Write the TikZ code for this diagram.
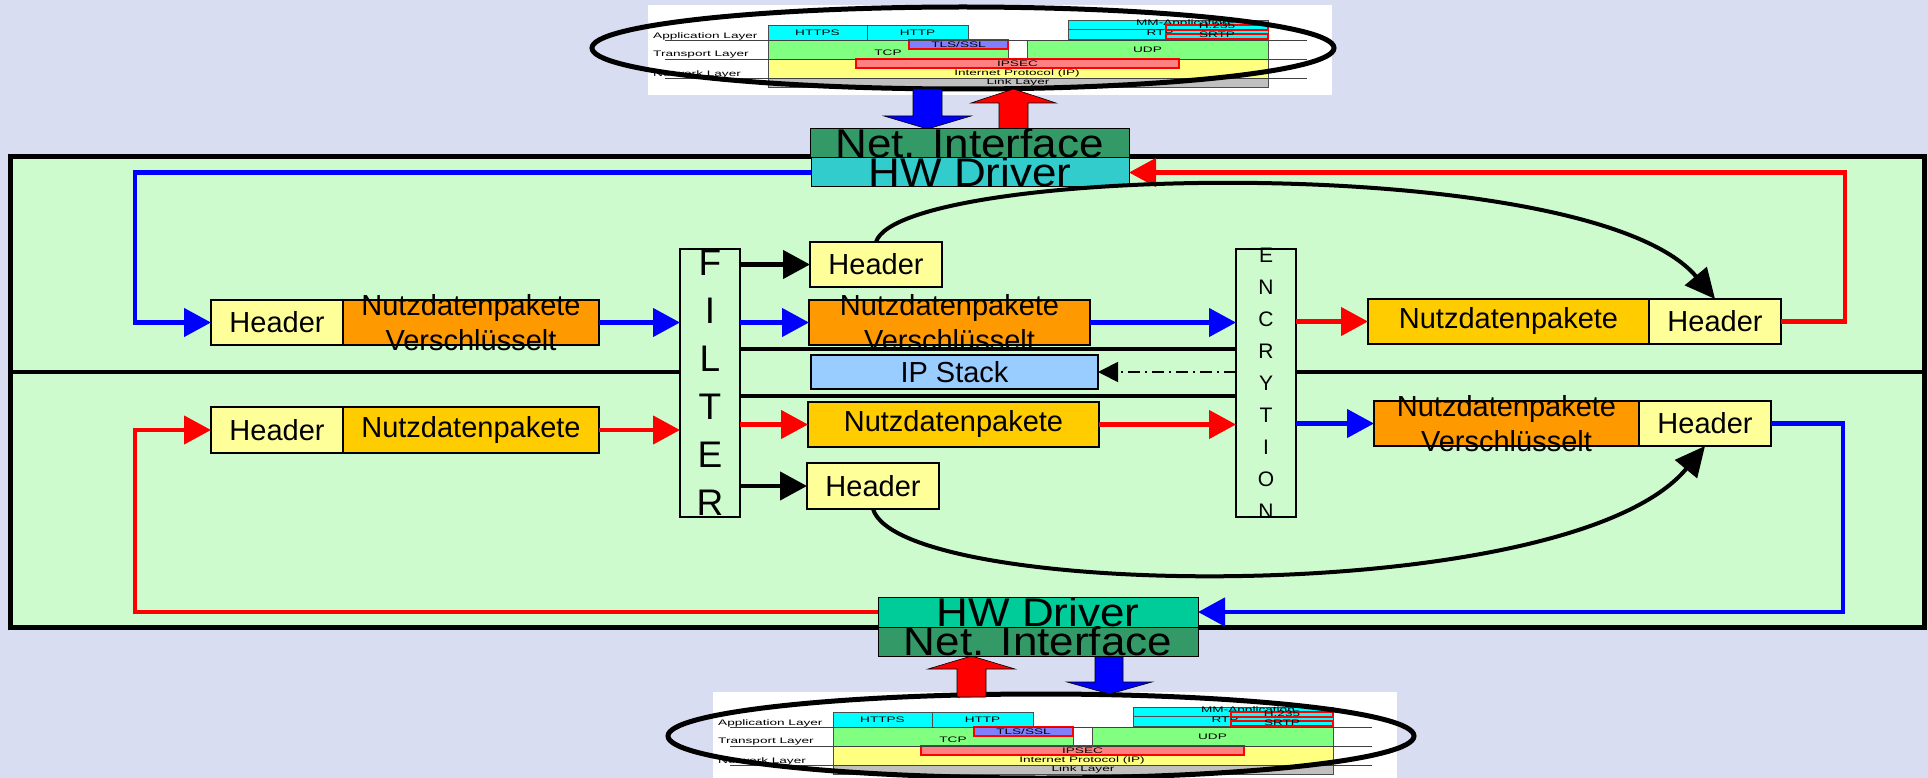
\documentclass[tikz,border=0pt]{standalone}
\usepackage{fontspec}
\setmainfont{Liberation Sans}
\usetikzlibrary{arrows.meta,shapes.geometric}
\definecolor{bgblue}{RGB}{216,221,242}
\definecolor{panel}{RGB}{206,251,206}
\definecolor{hdr}{HTML}{FFFF99}
\definecolor{orng}{HTML}{FF9900}
\definecolor{gold}{HTML}{FFCC00}
\definecolor{ipblue}{HTML}{99CCFF}
\definecolor{netif}{HTML}{339966}
\definecolor{hwtopc}{HTML}{33CCCC}
\definecolor{hwbotc}{HTML}{00CC99}
\definecolor{pcyan}{HTML}{00FFFF}
\definecolor{pgreen}{HTML}{80FF80}
\definecolor{pyellow}{HTML}{FFFF80}
\definecolor{psalmon}{HTML}{FF8080}
\definecolor{pviolet}{HTML}{8080FF}
\definecolor{pgrey}{HTML}{C0C0C0}
\newcommand\myfs[2]{\fontsize{#1}{#2}\selectfont}
\newcommand\ptx[1]{\scalebox{1.7}[1]{#1}}
\newcommand\bigx[1]{\scalebox{1.1}[1]{#1}}
\newcommand\protostack[3]{%
\begin{scope}[shift={(#2,#3)}]
\fill[white] (648,5) rectangle (1332,95);
\node[pcell,fill=pcyan,minimum width=99pt,minimum height=15pt] (#1https) at (768,25) {\ptx{HTTPS}};
\node[pcell,fill=pcyan,minimum width=101pt,minimum height=15pt] (#1http) at (867,25) {\ptx{HTTP}};
\node[pcell,fill=pcyan,minimum width=200pt,minimum height=19pt] (#1mm) at (1068,20) {};
\draw[black!70,line width=0.6pt] (#1mm.west) -- (#1mm.east);
\node[ptxt] (#1mmt) at (1183,23) {\ptx{MM-Application}};
\node[ptxt] (#1rtp) at (1160,33) {\ptx{RTP}};
\node[pcell,fill=pcyan,draw=red,line width=1.2pt,minimum width=102pt,minimum height=5pt,text height=3pt,text depth=0pt] (#1h235) at (1166,25) {\ptx{H.235}};
\node[pcell,fill=pcyan,draw=red,line width=1.2pt,minimum width=102pt,minimum height=5pt,text height=3pt,text depth=0pt] (#1srtp) at (1166,34) {\ptx{SRTP}};
\node[pcell,fill=pgreen,minimum width=240pt,minimum height=19pt] (#1tcp) at (768,40) {};
\node[ptxt] (#1tcpt) at (888,53) {\ptx{TCP}};
\node[pcell,fill=pviolet,draw=red,line width=1.2pt,minimum width=99pt,minimum height=9pt] (#1tls) at (909,40) {\ptx{TLS/SSL}};
\node[pcell,fill=pgreen,minimum width=241pt,minimum height=19pt] (#1udp) at (1027,40) {\ptx{UDP}};
\node[pcell,fill=pyellow,minimum width=500pt,minimum height=19pt] (#1ip) at (768,59) {};
\node[ptxt] (#1ipt) at (1017,73) {\ptx{Internet Protocol (IP)}};
\node[pcell,fill=psalmon,draw=red,line width=1.2pt,minimum width=323pt,minimum height=9pt] (#1ipsec) at (856,59) {\ptx{IPSEC}};
\node[pcell,fill=pgrey,minimum width=500pt,minimum height=9pt] (#1link) at (768,78) {\ptx{Link Layer}};
\foreach \yy in {40,59,78} \draw[black!75,line width=0.7pt] (665,\yy) -- (1307,\yy);
\node[ptxt,anchor=west] (#1app) at (653,36) {\ptx{Application Layer}};
\node[ptxt,anchor=west] (#1trn) at (653,55) {\ptx{Transport Layer}};
\node[ptxt,anchor=west] (#1net) at (653,74) {\ptx{Network Layer}};
\end{scope}}
\begin{document}
\begin{tikzpicture}[x=1pt,y=-1pt,
  pcell/.style={draw=black!70,line width=0.6pt,anchor=north west,inner sep=0pt,outer sep=0pt,font=\myfs{8}{9}},
  ptxt/.style={inner sep=0pt,font=\myfs{8}{9}},
  tbox/.style={draw=black,line width=1.5pt,anchor=north west,inner sep=0pt,outer sep=0pt,font=\myfs{29}{35}},
  lbl/.style={inner sep=0pt,align=center,font=\myfs{29}{35}},
  bigbox/.style={draw=black,line width=1pt,anchor=north west,inner sep=0pt,outer sep=0pt},
  biglbl/.style={inner sep=0pt,font=\myfs{40}{44}},
  ell/.style={draw=black,line width=5pt,ellipse,inner sep=0pt},
  blueline/.style={draw=blue,line width=4.5pt,-{Triangle[length=27pt,width=28pt]}},
  redline/.style={draw=red,line width=4.5pt,-{Triangle[length=27pt,width=28pt]}},
  blkline/.style={draw=black,line width=4.5pt,-{Triangle[length=27pt,width=28pt]}},
  blkplain/.style={draw=black,line width=4.5pt},
  curvearrow/.style={draw=black,line width=4pt,-{Triangle[length=30pt,width=28pt]}},
  dashdotarrow/.style={draw=black,line width=1.8pt,dash pattern=on 12pt off 5pt on 2pt off 5pt,-{Triangle[length=20pt,width=20pt]}},
  blockarrow/.style={draw=black,line width=0.6pt}]
\fill[bgblue] (0,0) rectangle (1928,778);
\useasboundingbox (0,0) rectangle (1928,778);
% main panel
\node[draw=black,line width=5pt,fill=panel,anchor=north west,inner sep=0pt,outer sep=0pt,minimum width=1914pt,minimum height=470pt] (panel) at (10,157) {};
% protocol stacks
\protostack{t}{0}{0}
\protostack{b}{65}{687}
\node[ell,minimum width=742pt,minimum height=82pt] (ellT) at (963,48) {};
\node[ell,minimum width=746pt,minimum height=84pt] (ellB) at (1041,736) {};
% block arrows
\filldraw[blockarrow,fill=blue] (913,89) -- (942,89) -- (942,116) -- (971,116) -- (927.5,129) -- (884,116) -- (913,116) -- cycle;
\filldraw[blockarrow,fill=red] (999,129) -- (999,103) -- (971,103) -- (1013.5,89) -- (1056,103) -- (1028,103) -- (1028,129) -- cycle;
\filldraw[blockarrow,fill=red] (957,697) -- (957,669) -- (928,669) -- (971.5,656) -- (1015,669) -- (986,669) -- (986,697) -- cycle;
\filldraw[blockarrow,fill=blue] (1095,656) -- (1123,656) -- (1123,682) -- (1152,682) -- (1109.5,694) -- (1067,682) -- (1095,682) -- cycle;
% interface boxes
\node[bigbox,fill=netif,minimum width=319pt,minimum height=29pt] (netT) at (810,129) {};
\node[bigbox,fill=hwtopc,minimum width=318pt,minimum height=29pt] (hwT) at (811,158) {};
\node[bigbox,fill=hwbotc,minimum width=320pt,minimum height=30pt] (hwB) at (878,597) {};
\node[bigbox,fill=netif,minimum width=320pt,minimum height=29pt] (netB) at (878,627) {};
\node[biglbl] (netTt) at (netT.center) {\bigx{Net. Interface}};
\node[biglbl] (hwTt) at (hwT.center) {\bigx{HW Driver}};
\node[biglbl] (hwBt) at (hwB.center) {\bigx{HW Driver}};
\node[biglbl] (netBt) at (netB.center) {\bigx{Net. Interface}};
% filter and encryption
\node[draw=black,line width=2pt,fill=panel,anchor=north west,inner sep=0pt,outer sep=0pt,minimum width=60pt,minimum height=268pt] (filter) at (680,249) {};
\node[inner sep=0pt,align=center,font=\myfs{37}{48}] (filtert) at (filter.center) {F\\I\\L\\T\\E\\R};
\node[draw=black,line width=2pt,fill=panel,anchor=north west,inner sep=0pt,outer sep=0pt,minimum width=60pt,minimum height=268pt] (encr) at (1236,249) {};
\node[inner sep=0pt,align=center,font=\myfs{21}{32}] (encrt) at (encr.center) {E\\N\\C\\R\\Y\\T\\I\\O\\N};
% divider
\draw[blkplain] (panel.west |- 0,372) -- (filter.west |- 0,372);
\draw[blkplain] (encr.east |- 0,372) -- (panel.east |- 0,372);
% packet boxes
\node[tbox,fill=hdr,minimum width=132pt,minimum height=45pt] (hUL) at (211,300) {Header};
\node[tbox,fill=orng,minimum width=256pt,minimum height=45pt] (nUL) at (343,300) {};
\node[lbl] (nULt) at (nUL.center) {Nutzdatenpakete\\Verschlüsselt};
\node[tbox,fill=hdr,minimum width=132pt,minimum height=46pt] (hLL) at (211,407) {Header};
\node[tbox,fill=gold,minimum width=256pt,minimum height=46pt] (nLL) at (343,407) {Nutzdatenpakete};
\node[tbox,fill=hdr,minimum width=132pt,minimum height=45pt] (hM1) at (810,242) {Header};
\node[tbox,fill=orng,minimum width=281pt,minimum height=45pt] (nM) at (809,300) {};
\node[lbl] (nMt) at (nM.center) {Nutzdatenpakete\\Verschlüsselt};
\node[tbox,fill=ipblue,minimum width=287pt,minimum height=34pt] (ip) at (811,355) {IP Stack};
\node[tbox,fill=gold,minimum width=291pt,minimum height=45pt] (nML) at (808,402) {Nutzdatenpakete};
\node[tbox,fill=hdr,minimum width=132pt,minimum height=46pt] (hM2) at (807,463) {Header};
\node[tbox,fill=gold,minimum width=281pt,minimum height=45pt] (nUR) at (1368,299) {Nutzdatenpakete};
\node[tbox,fill=hdr,minimum width=132pt,minimum height=45pt] (hUR) at (1649,299) {Header};
\node[tbox,fill=orng,minimum width=265pt,minimum height=45pt] (nLR) at (1374,401) {};
\node[lbl] (nLRt) at (nLR.center) {Nutzdatenpakete\\Verschlüsselt};
\node[tbox,fill=hdr,minimum width=132pt,minimum height=45pt] (hLR) at (1639,401) {Header};
% loop connectors
\draw[blueline] (hwT.west) -| (135,322.5) -- (hUL.west);
\draw[redline] (hUR.east) -- (1845,321.5) |- (hwT.east);
\draw[blueline] (hLR.east) -- (1843,423.5) |- (hwB.east);
\draw[redline] (hwB.west) -| (135,430) -- (hLL.west);
% inner connectors
\draw[blueline] (nUL.east) -- (filter.west |- nUL.east);
\draw[redline] (nLL.east) -- (filter.west |- nLL.east);
\draw[blkline] (filter.east |- hM1.west) -- (hM1.west);
\draw[blueline] (filter.east |- nM.west) -- (nM.west);
\draw[blueline] (nM.east) -- (encr.west |- nM.east);
\draw[blkplain] (filter.east |- 0,349) -- (encr.west |- 0,349);
\draw[dashdotarrow] (encr.west |- ip.east) -- (ip.east);
\draw[blkplain] (filter.east |- 0,396) -- (encr.west |- 0,396);
\draw[redline] (filter.east |- nML.west) -- (nML.west);
\draw[redline] (nML.east) -- (encr.west |- nML.east);
\draw[blkline] (filter.east |- hM2.west) -- (hM2.west);
\draw[redline] (encr.east |- nUR.west) -- (nUR.west);
\draw[blueline] (encr.east |- nLR.west) -- (nLR.west);
% curved arrows
\draw[curvearrow] (hM1.north) .. controls (900,165) and (1590,150) .. (hUR.north);
\draw[curvearrow] (hM2.south) .. controls (900,600) and (1570,610) .. (hLR.south);
\end{tikzpicture}
\end{document}
